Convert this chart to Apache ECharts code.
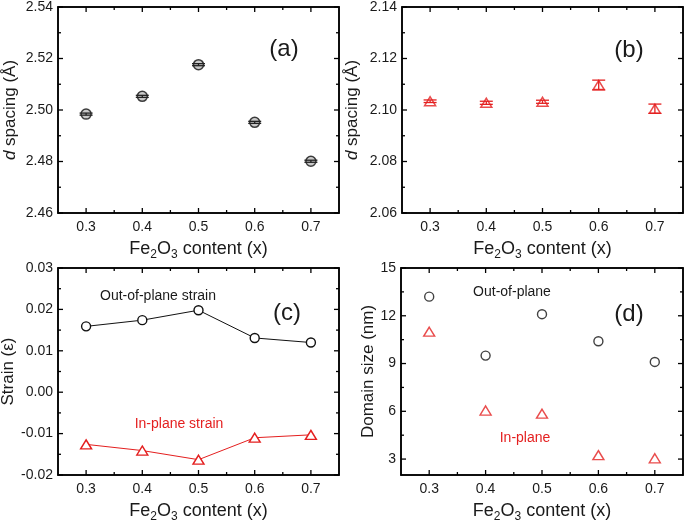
<!DOCTYPE html>
<html>
<head>
<meta charset="utf-8">
<script src="https://cdn.jsdelivr.net/npm/echarts@6/dist/echarts.min.js"></script>
<style>
html,body{margin:0;padding:0;background:#fff;}
#chart{width:685px;height:521px;}
</style>
</head>
<body>
<div id="chart"></div>
<script>
// ---- data ----
var xValues = [0.3, 0.4, 0.5, 0.6, 0.7];
var xTickLabels = [0.3, 0.4, 0.5, 0.6, 0.7];
var xMinorTicks = [0.35, 0.45, 0.55, 0.65];

var dSpacingA = [2.4984, 2.5053, 2.5176, 2.4952, 2.4801];
var dSpacingAErr = [0.0004, 0.0004, 0.0004, 0.0004, 0.0004];
var yTicksA = [2.46, 2.48, 2.50, 2.52, 2.54];
var yMinorA = [2.47, 2.49, 2.51, 2.53];

var dSpacingB = [2.1034, 2.1028, 2.1032, 2.1097, 2.1005];
var dSpacingBErr = [0.0005, 0.0006, 0.0006, 0.0019, 0.0018];
var yTicksB = [2.06, 2.08, 2.10, 2.12, 2.14];
var yMinorB = [2.07, 2.09, 2.11, 2.13];

var strainOut = [0.0159, 0.0174, 0.0198, 0.0131, 0.0120];
var strainIn = [-0.0126, -0.0141, -0.0163, -0.0110, -0.0103];
var yTicksC = [-0.02, -0.01, 0.00, 0.01, 0.02, 0.03];
var yMinorC = [-0.015, -0.005, 0.005, 0.015, 0.025];

var domainOut = [13.2, 9.5, 12.1, 10.4, 9.1];
var domainIn = [11.0, 6.05, 5.85, 3.25, 3.05];
var yTicksD = [3, 6, 9, 12, 15];
var yMinorD = [4.5, 7.5, 10.5, 13.5];

// ---- styling ----
var FONT = 'Liberation Sans, Arial, Helvetica, sans-serif';
var TXT = '#1a1a1a';
var RED = '#e41f1f';
var BLACK = '#111';

var chart = echarts.init(document.getElementById('chart'), null, {renderer: 'canvas'});

var grids = [
  {left: 58, top: 7, width: 281, height: 206},
  {left: 402, top: 7, width: 281, height: 206},
  {left: 58, top: 268, width: 281, height: 207},
  {left: 401, top: 268, width: 282, height: 207}
];
grids.forEach(function (g) {
  g.containLabel = false; g.outerBoundsMode = 'none';
  g.show = true; g.borderColor = '#000'; g.borderWidth = 1.5; g.backgroundColor = 'transparent';
});

var xAxes = [], yAxes = [];
var axisRanges = [];

function inList(v, list) {
  for (var i = 0; i < list.length; i++) { if (Math.abs(v - list[i]) < 1e-9) return true; }
  return false;
}

function makeAxis(gi, min, max, step, position) {
  return {
    gridIndex: gi, type: 'value', min: min, max: max, position: position,
    minInterval: step, maxInterval: step, splitNumber: 5,
    axisLine: {show: true, onZero: false, lineStyle: {color: '#000', width: 1.5}},
    axisTick: {show: false},
    minorTick: {show: false},
    splitLine: {show: false}, minorSplitLine: {show: false},
    axisLabel: {show: false}
  };
}

function addAxes(list, dim, gi, min, max, step, labels, digits, name, nameGap, rich, nameSize) {
  var mainIndex = list.length;
  var main = makeAxis(gi, min, max, step, dim === 'x' ? 'bottom' : 'left');
  main.axisLabel = {
    show: true, fontSize: 14, fontFamily: FONT, color: TXT, margin: dim === 'x' ? 7 : 5,
    formatter: function (v) { return inList(v, labels) ? v.toFixed(digits) : ''; }
  };
  main.name = name;
  main.nameLocation = 'middle';
  main.nameGap = nameGap;
  main.nameTextStyle = {fontSize: nameSize, fontFamily: FONT, color: TXT, rich: rich};
  list.push(main);
  list.push(makeAxis(gi, min, max, step, dim === 'x' ? 'top' : 'right'));
  return mainIndex;
}

var xRich = {
  n: {fontSize: 18, fontFamily: FONT, color: TXT, lineHeight: 24},
  s: {fontSize: 12, fontFamily: FONT, color: TXT, lineHeight: 12, verticalAlign: 'bottom'}
};
var xName = '{n|Fe}{s|2}{n|O}{s|3}{n| content (x)}';
var dRich = {
  i: {fontSize: 17, fontFamily: FONT, color: TXT, fontStyle: 'italic'},
  n: {fontSize: 17, fontFamily: FONT, color: TXT}
};
var dName = '{i|d}{n| spacing (Å)}';
var plainRich = {n: {fontSize: 17, fontFamily: FONT, color: TXT}};

var X_MIN = 0.25, X_MAX = 0.75;
var yMins = [2.46, 2.06, -0.02, 2];

var xa = [], ya = [];
for (var g = 0; g < 4; g++) {
  xa.push(addAxes(xAxes, 'x', g, X_MIN, X_MAX, 0.1, xTickLabels, 1, xName, 24, xRich, 18));
}
ya.push(addAxes(yAxes, 'y', 0, 2.46, 2.54, 0.02, yTicksA, 2, dName, 39, dRich, 17));
ya.push(addAxes(yAxes, 'y', 1, 2.06, 2.14, 0.02, yTicksB, 2, dName, 41, dRich, 17));
ya.push(addAxes(yAxes, 'y', 2, -0.02, 0.03, 0.01, yTicksC, 2, '{n|Strain (ε)}', 41, plainRich, 17));
ya.push(addAxes(yAxes, 'y', 3, 2, 15, 3, yTicksD, 0, '{n|Domain size (nm)}', 24, plainRich, 17));

function pairs(vals) { return xValues.map(function (x, i) { return [x, vals[i]]; }); }
function triples(vals, errs) { return xValues.map(function (x, i) { return [x, vals[i], errs[i]]; }); }

// inward ticks on all four sides, placed through the axes' scales
function tickSeries(gi, yMajor, yMinor) {
  var yMin = yMins[gi];
  var data = [];
  xTickLabels.forEach(function (v) { data.push([v, yMin, 0, 5]); });
  xMinorTicks.forEach(function (v) { data.push([v, yMin, 0, 3]); });
  yMajor.forEach(function (v) { data.push([X_MIN, v, 1, 5]); });
  yMinor.forEach(function (v) { data.push([X_MIN, v, 1, 3]); });
  return {
    type: 'custom', xAxisIndex: xa[gi], yAxisIndex: ya[gi], z: 6, silent: true,
    data: data,
    renderItem: function (params, api) {
      var cs = params.coordSys;
      var kind = api.value(2), len = api.value(3);
      var p = api.coord([api.value(0), api.value(1)]);
      var st = {stroke: '#000', lineWidth: 1.3, fill: null};
      var b = cs.y + cs.height, r = cs.x + cs.width;
      if (kind === 0) {
        return {type: 'group', children: [
          {type: 'line', shape: {x1: p[0], y1: b, x2: p[0], y2: b - len}, style: st},
          {type: 'line', shape: {x1: p[0], y1: cs.y, x2: p[0], y2: cs.y + len}, style: st}
        ]};
      }
      return {type: 'group', children: [
        {type: 'line', shape: {x1: cs.x, y1: p[1], x2: cs.x + len, y2: p[1]}, style: st},
        {type: 'line', shape: {x1: r, y1: p[1], x2: r - len, y2: p[1]}, style: st}
      ]};
    }
  };
}

function errorSeries(gi, vals, errs, color) {
  return {
    type: 'custom', xAxisIndex: xa[gi], yAxisIndex: ya[gi], z: 5,
    data: triples(vals, errs),
    renderItem: function (params, api) {
      var x = api.value(0), y = api.value(1), e = api.value(2);
      var top = api.coord([x, y + e]);
      var bot = api.coord([x, y - e]);
      var hw = 6.5;
      var st = {stroke: color, lineWidth: 1.3, fill: null};
      return {
        type: 'group',
        children: [
          {type: 'line', shape: {x1: top[0], y1: top[1], x2: bot[0], y2: bot[1]}, style: st},
          {type: 'line', shape: {x1: top[0] - hw, y1: top[1], x2: top[0] + hw, y2: top[1]}, style: st},
          {type: 'line', shape: {x1: bot[0] - hw, y1: bot[1], x2: bot[0] + hw, y2: bot[1]}, style: st}
        ]
      };
    }
  };
}

var series = [
  tickSeries(0, yTicksA, yMinorA),
  tickSeries(1, yTicksB, yMinorB),
  tickSeries(2, yTicksC, yMinorC),
  tickSeries(3, yTicksD, yMinorD),
  {
    type: 'scatter', xAxisIndex: xa[0], yAxisIndex: ya[0], data: pairs(dSpacingA),
    symbol: 'circle', symbolSize: 10,
    itemStyle: {color: '#bdbdbd', borderColor: BLACK, borderWidth: 1.5}, z: 3
  },
  errorSeries(0, dSpacingA, dSpacingAErr, '#222'),
  {
    type: 'scatter', xAxisIndex: xa[1], yAxisIndex: ya[1], data: pairs(dSpacingB),
    symbol: 'triangle', symbolSize: [11, 9],
    itemStyle: {color: '#fff', borderColor: RED, borderWidth: 1.5}, z: 3
  },
  errorSeries(1, dSpacingB, dSpacingBErr, RED),
  {
    type: 'line', xAxisIndex: xa[2], yAxisIndex: ya[2], data: pairs(strainOut),
    symbol: 'circle', symbolSize: 9, showAllSymbol: true,
    lineStyle: {color: BLACK, width: 1},
    itemStyle: {color: '#fff', borderColor: BLACK, borderWidth: 1.4}
  },
  {
    type: 'line', xAxisIndex: xa[2], yAxisIndex: ya[2], data: pairs(strainIn),
    symbol: 'triangle', symbolSize: [11, 9], showAllSymbol: true,
    lineStyle: {color: RED, width: 1},
    itemStyle: {color: '#fff', borderColor: RED, borderWidth: 1.4}
  },
  {
    type: 'scatter', xAxisIndex: xa[3], yAxisIndex: ya[3], data: pairs(domainOut),
    symbol: 'circle', symbolSize: 9,
    itemStyle: {color: '#fff', borderColor: BLACK, borderWidth: 1.4}
  },
  {
    type: 'scatter', xAxisIndex: xa[3], yAxisIndex: ya[3], data: pairs(domainIn),
    symbol: 'triangle', symbolSize: [11, 9],
    itemStyle: {color: '#fff', borderColor: RED, borderWidth: 1.4}
  }
];

function label(text, x, y, size, color) {
  return {
    type: 'text', x: x, y: y, z: 100,
    style: {text: text, fontSize: size, fontFamily: FONT, fill: color, align: 'center', verticalAlign: 'middle'}
  };
}

var option = {
  backgroundColor: '#fff',
  animation: false,
  grid: grids,
  xAxis: xAxes,
  yAxis: yAxes,
  series: series,
  graphic: [
    label('(a)', 284, 49, 24, TXT),
    label('(b)', 629, 50, 24, TXT),
    label('(c)', 287, 313, 24, TXT),
    label('(d)', 629, 314, 24, TXT),
    label('Out-of-plane strain', 158, 296, 14, TXT),
    label('In-plane strain', 179, 424, 14, RED),
    label('Out-of-plane', 512, 292, 14, TXT),
    label('In-plane', 525, 438, 14, RED)
  ]
};
chart.setOption(option);
</script>
</body>
</html>
